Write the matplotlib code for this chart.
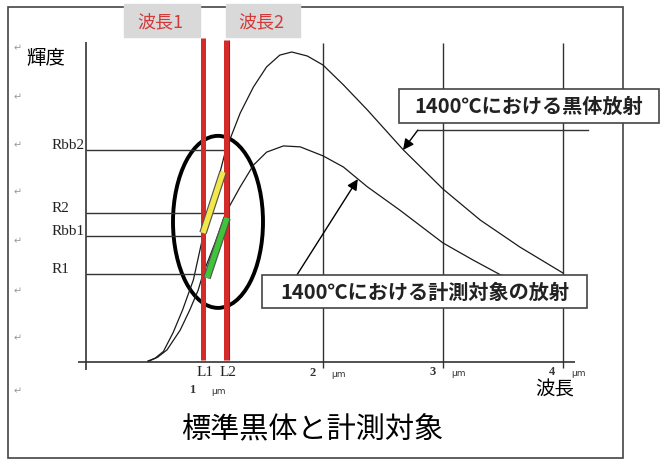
import matplotlib.pyplot as plt
from matplotlib.patches import Ellipse, Rectangle
from matplotlib.transforms import Affine2D
import matplotlib.patheffects as pe

# blackbody curve at 1400C (arbitrary units, peak = 100)
wl_bb = [0.54, 0.60, 0.67, 0.75, 0.83, 0.92, 1.0, 1.1, 1.19, 1.31, 1.42, 1.53,
         1.64, 1.74, 1.87, 2.0, 2.17, 2.37, 2.67, 3.0, 3.31, 3.64, 4.0]
bb = [0.3, 1.2, 3.4, 9.4, 16.8, 26.5, 40.6, 55.0, 68.4, 80.3, 88.7, 95.2,
      99.0, 100.0, 98.7, 95.8, 89.4, 81.3, 68.4, 55.8, 45.8, 37.1, 28.7]

# measured object curve at 1400C
wl_obj = [0.55, 0.62, 0.70, 0.81, 0.89, 0.96, 1.0, 1.1, 1.19, 1.31, 1.42, 1.53,
          1.67, 1.81, 2.0, 2.17, 2.37, 2.64, 3.0, 3.25, 3.48, 3.73, 4.0]
obj = [0.3, 1.5, 3.9, 10.3, 16.8, 23.2, 28.4, 38.4, 48.1, 56.5, 63.5, 67.7,
       69.7, 69.4, 66.5, 62.9, 56.5, 49.0, 38.4, 32.9, 28.1, 24.2, 20.6]

# two measuring wavelengths
wl_marks = [1.0, 1.19]
mark_names = ["L1", "L2"]

# levels read on the y axis
level_names = ["Rbb2", "R2", "Rbb1", "R1"]
level_vals = [68.4, 48.1, 40.6, 28.4]
level_wl = [1.19, 1.19, 1.0, 1.0]

# slope bars (start, end)
yellow_bar = ([1.0, 1.167], [41.6, 61.3])
green_bar = ([1.033, 1.2], [27.1, 46.5])

grid_wl = [2, 3, 4]
tick_um = [1, 2, 3, 4]

W, H = 666, 469
fig = plt.figure(figsize=(W / 100, H / 100), dpi=100)
ax = fig.add_axes([0, 0, 1, 1])
# pixel -> data mapping: 1 um at x=203 px, 120 px per um; y=0 at 362 px, 3.1 px per unit
ax.set_xlim(1 + (0 - 203) / 120, 1 + (W - 203) / 120)
ax.set_ylim((362 - H) / 3.1, 362 / 3.1)
ax.axis("off")

# pixel coordinates (origin top-left) for the decorations
pix = Affine2D().scale(1 / W, -1 / H).translate(0, 1) + fig.transFigure

jp = ["Noto Sans CJK JP", "DejaVu Sans"]
serif = ["Liberation Serif", "DejaVu Serif"]
dark = "#333333"
red = "#d42a2a"

# outer frame
ax.add_patch(Rectangle((8, 7), 615, 451, transform=pix, fill=False,
                       ec="#444444", lw=1.2, clip_on=False))

# axes lines and gridlines
ax.hlines(0, -0.04, 4.1, color=dark, lw=1.2)
ax.vlines(0.025, -2.6, 103.2, color=dark, lw=1.2)
ax.vlines(grid_wl, -1.9, 102.9, color=dark, lw=1.0)

# curves
ax.plot(wl_bb, bb, color="#1a1a1a", lw=0.9)
ax.plot(wl_obj, obj, color="#1a1a1a", lw=0.9)

# level lines
for v, w in zip(level_vals, level_wl):
    ax.hlines(v, 0.025, w, color=dark, lw=1.0)

# wavelength markers
ax.vlines(wl_marks[1] + 0.025, 0.6, 103.9, color="#444444", lw=0.8)
ax.vlines(wl_marks, 0.6, [104.5, 103.9], color=red, lw=3.6)

# slope bars
outline = [pe.Stroke(linewidth=5.5, foreground="#555555"), pe.Normal()]
ax.plot(*yellow_bar, color="#f3e84a", lw=3.8, solid_capstyle="butt", path_effects=outline)
ax.plot(*green_bar, color="#3fc43a", lw=3.8, solid_capstyle="butt", path_effects=outline)

# ellipse around the measuring zone
ax.add_patch(Ellipse((1.125, 45.2), 0.75, 55.5, fill=False, ec="black", lw=2.8))

# level labels
for name, v in zip(level_names, level_vals):
    ax.text(0.025 - 34 / 120, v + 1.4, name, family=serif, fontsize=11,
            ha="left", va="center", color="#222222")

# x tick labels
for name, w in zip(mark_names, wl_marks):
    ax.text(w + 0.02, -3.4, name, family=serif, fontsize=11, ha="center", va="center", color="#222222")
label_dy = [-9.0, -3.5, -3.2, -3.2]
for um, dy in zip(tick_um, label_dy):
    ax.text(um - 0.09, dy, str(um), family=serif, fontsize=9, fontweight="bold",
            ha="center", va="center", color="#333333")
    ax.text(um + 0.125, dy - 0.6, "μm", family="DejaVu Sans", fontsize=6.5,
            ha="center", va="center", color="#333333")

# paragraph marks on the left
for py in [48, 97, 145, 192, 241, 291, 338, 391]:
    ax.text(18, py, "↵", transform=pix, fontsize=7, color="#999999",
            ha="center", va="center", family="DejaVu Sans")

# axis titles and chart title
ax.text(46, 58, "輝度", transform=pix, family=jp, fontsize=14, ha="center", va="center")
ax.text(555, 390, "波長", transform=pix, family=jp, fontsize=14, ha="center", va="center")
ax.text(312, 430, "標準黒体と計測対象", transform=pix, family=jp, fontsize=21,
        ha="center", va="center")

# wavelength header boxes
for x0, x1, txt in [(124, 200, "波長1"), (226, 300, "波長2")]:
    ax.add_patch(Rectangle((x0, 4), x1 - x0, 33, transform=pix, color="#d9d9d9", clip_on=False))
    ax.text((x0 + x1) / 2 - 2, 22, txt, transform=pix, family=jp, fontsize=13,
            color="#d23a3a", ha="center", va="center")

# callout: blackbody
ax.plot([4.208, 2.79], [74.8, 74.8], color=dark, lw=1.0)
ax.annotate("", xy=(2.667, 68.4), xytext=(2.79, 74.8),
            arrowprops=dict(arrowstyle="-|>", color="black", lw=1.0, mutation_scale=16,
                            shrinkA=0, shrinkB=0))
ax.add_patch(Rectangle((399, 89), 260, 34, transform=pix, fc="white", ec="#444444",
                       lw=1.2, clip_on=False, zorder=5))
ax.text(529, 106, "1400℃における黒体放射", transform=pix, family=jp, fontsize=14.5,
        fontweight="bold", ha="center", va="center", zorder=6, color="#222222")

# callout: measured object
ax.annotate("", xy=(2.29, 59.0), xytext=(1.783, 28.1),
            arrowprops=dict(arrowstyle="-|>", color="black", lw=1.0, mutation_scale=16,
                            shrinkA=0, shrinkB=0))
ax.add_patch(Rectangle((262, 275), 325, 33, transform=pix, fc="white", ec="#444444",
                       lw=1.2, clip_on=False, zorder=5))
ax.text(425, 292, "1400℃における計測対象の放射", transform=pix, family=jp, fontsize=14.5,
        fontweight="bold", ha="center", va="center", zorder=6, color="#222222")

fig.savefig("out.png", dpi=100)
